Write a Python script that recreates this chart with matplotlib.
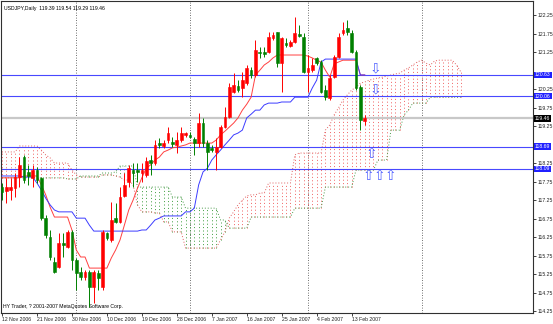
import numpy as np
import matplotlib.pyplot as plt
from matplotlib import font_manager
from matplotlib.transforms import blended_transform_factory

# USDJPY daily candles (bar 0 = 12 Nov 2006)
opens = [117.60, 117.49, 117.52, 117.57, 117.87, 118.41, 118.01, 117.85, 118.06, 117.85,
         116.76, 116.25, 115.57, 115.44, 116.09, 115.98, 116.39, 115.63, 115.30, 115.17,
         115.30, 114.90, 115.28, 114.90, 116.36, 116.17, 116.76, 116.66, 117.36, 117.74,
         118.06, 118.06, 117.98, 117.93, 118.33, 118.25, 118.79, 118.71, 118.87, 118.82,
         118.74, 118.87, 119.01, 119.01, 118.90, 118.79, 119.33, 118.79, 118.66, 118.55,
         118.68, 119.22, 119.49, 120.17, 120.33, 120.28, 120.41, 120.76, 120.63, 121.25,
         121.25, 121.25, 121.63, 121.79, 120.95, 121.49, 121.41, 121.52, 121.74, 121.66,
         120.71, 120.76, 121.09, 120.98, 120.22, 120.01, 120.57, 121.11, 121.76, 121.90,
         121.76, 121.25, 120.30, 119.39]
highs = [117.71, 117.85, 117.85, 117.98, 118.41, 118.47, 118.20, 118.20, 118.14, 117.87,
         116.85, 116.44, 115.71, 116.36, 116.36, 116.44, 116.44, 115.68, 115.44, 115.36,
         115.36, 115.36, 115.36, 116.44, 116.39, 117.20, 117.17, 117.60, 117.98, 118.20,
         118.25, 118.25, 118.25, 118.41, 118.47, 118.87, 118.93, 118.87, 119.22, 118.95,
         119.09, 119.22, 119.09, 119.09, 118.95, 119.60, 119.47, 118.87, 118.74, 118.93,
         119.28, 119.76, 120.41, 120.68, 120.49, 120.71, 120.90, 120.84, 121.57, 121.39,
         121.39, 121.79, 121.79, 121.79, 121.66, 121.63, 121.57, 122.20, 121.98, 121.76,
         121.17, 121.09, 121.11, 121.03, 120.36, 120.63, 121.17, 121.76, 122.06, 122.11,
         121.84, 121.30, 120.36, 119.54]
lows = [117.25, 117.17, 117.25, 117.33, 117.60, 117.71, 117.66, 117.60, 117.71, 116.71,
        116.22, 115.63, 115.28, 115.41, 115.71, 115.95, 115.36, 114.82, 115.09, 115.09,
        114.36, 114.47, 114.82, 114.82, 116.17, 116.12, 116.63, 116.63, 117.33, 117.60,
        117.60, 117.74, 117.74, 117.87, 117.93, 118.20, 118.66, 118.66, 118.79, 118.68,
        118.52, 118.82, 118.95, 118.93, 118.47, 118.68, 118.68, 118.06, 118.55, 118.06,
        118.66, 119.20, 119.47, 120.14, 120.17, 120.03, 120.36, 120.55, 120.57, 121.09,
        121.11, 121.22, 121.57, 120.84, 120.17, 121.39, 121.39, 121.49, 121.66, 120.68,
        120.17, 120.71, 120.90, 120.14, 119.95, 119.95, 120.55, 121.09, 121.71, 121.71,
        121.22, 120.22, 119.14, 119.29]
closes = [117.47, 117.60, 117.60, 117.87, 118.20, 117.79, 117.90, 118.06, 117.79, 116.76,
          116.30, 115.71, 115.30, 116.09, 116.03, 116.39, 115.63, 115.28, 115.17, 115.30,
          114.90, 115.30, 115.14, 116.39, 116.22, 116.71, 116.66, 117.33, 117.66, 118.11,
          117.98, 118.01, 118.06, 118.30, 118.25, 118.74, 118.74, 118.79, 119.06, 118.76,
          118.87, 119.06, 119.06, 118.95, 118.79, 119.33, 118.79, 118.55, 118.60, 118.68,
          119.22, 119.49, 120.30, 120.36, 120.22, 120.49, 120.82, 120.63, 121.30, 121.22,
          121.20, 121.66, 121.71, 120.95, 121.63, 121.44, 121.52, 121.76, 121.68, 120.71,
          120.82, 120.90, 120.95, 120.17, 120.03, 120.55, 121.11, 121.66, 121.84, 121.79,
          121.25, 120.28, 119.41, 119.46]

# Ichimoku lines
tenkan = [117.85, 117.85, 117.85, 117.85, 117.85, 117.90, 117.90, 117.90, 117.90, 117.66,
          117.39, 117.06, 116.79, 116.79, 116.79, 116.79, 116.44, 115.90, 115.71, 115.71,
          115.41, 115.41, 115.41, 115.41, 115.41, 115.68, 115.90, 116.17, 116.57, 116.98,
          117.25, 117.57, 117.85, 118.11, 118.20, 118.33, 118.41, 118.55, 118.60, 118.66,
          118.68, 118.71, 118.74, 118.79, 118.79, 118.79, 118.79, 118.79, 118.79, 118.87,
          119.01, 119.11, 119.22, 119.33, 119.47, 119.68, 119.84, 120.03, 120.63, 120.76,
          120.90, 120.98, 121.09, 121.17, 121.17, 121.17, 121.17, 121.17, 121.17, 121.17,
          121.14, 121.09, 121.03, 120.98, 120.76, 120.57, 120.93, 120.98, 121.03, 121.03,
          121.03, 121.03, 120.63, 120.63]
kijun = [117.90, 117.90, 117.90, 117.90, 117.90, 117.87, 117.87, 117.87, 117.71, 117.52,
         117.30, 117.12, 116.98, 116.93, 116.93, 116.93, 116.93, 116.76, 116.76, 116.76,
         116.57, 116.41, 116.41, 116.41, 116.41, 116.41, 116.41, 116.41, 116.41, 116.41,
         116.41, 116.41, 116.44, 116.44, 116.57, 116.71, 116.76, 116.82, 116.82, 116.82,
         116.82, 116.82, 116.93, 116.93, 117.03, 117.66, 118.01, 118.11, 118.33, 118.47,
         118.60, 118.74, 118.87, 119.01, 119.06, 119.14, 119.47, 119.57, 119.68, 119.68,
         119.82, 119.87, 119.87, 119.87, 119.90, 119.90, 119.90, 120.03, 120.03, 120.03,
         120.03, 120.28, 120.49, 120.98, 121.06, 121.06, 121.06, 121.06, 121.06, 121.06,
         121.06, 121.06, 120.63, 120.63]
span_a = [118.55, 118.55, 118.55, 118.55, 118.71, 118.71, 118.71, 118.71, 118.71, 118.60,
          118.47, 118.39, 118.25, 118.25, 118.25, 118.25, 118.06, 117.93, 117.87, 117.87,
          117.87, 117.87, 117.87, 117.93, 117.93, 117.93, 117.90, 117.87, 117.79, 117.79,
          117.66, 117.12, 116.93, 116.93, 116.93, 116.90, 116.90, 116.66, 116.66, 116.39,
          116.39, 116.39, 115.95, 115.95, 115.95, 115.95, 115.95, 115.95, 115.95, 115.95,
          116.17, 116.39, 116.76, 116.93, 117.12, 117.25, 117.36, 117.39, 117.39, 117.44,
          117.44, 117.71, 117.71, 117.71, 117.71, 117.71, 117.71, 118.47, 118.52, 118.52,
          118.52, 118.52, 118.52, 118.52, 119.14, 119.28, 119.55, 119.74, 119.95, 120.09,
          120.22, 120.30, 120.41, 120.44, 120.49, 120.52, 120.55, 120.57, 120.60, 120.63,
          120.66, 120.68, 120.76, 120.82, 120.90, 120.98, 121.03, 120.95, 120.90, 121.01,
          121.03, 121.03, 121.03, 121.03, 120.90, 120.71]
span_b = [117.85, 117.85, 117.85, 117.85, 117.85, 117.85, 117.85, 117.85, 117.85, 117.85,
          117.85, 117.85, 117.85, 117.85, 117.85, 117.82, 117.82, 117.82, 117.90, 117.90,
          117.90, 117.90, 117.90, 117.98, 117.98, 117.98, 118.01, 118.17, 118.17, 118.17,
          118.17, 117.60, 117.60, 117.60, 117.60, 117.60, 117.60, 117.60, 117.60, 117.33,
          117.33, 117.33, 117.03, 117.03, 117.03, 117.03, 117.03, 117.03, 117.03, 117.03,
          116.71, 116.71, 116.49, 116.49, 116.49, 116.49, 116.49, 116.79, 116.79, 116.79,
          116.79, 116.79, 116.79, 116.79, 116.79, 116.79, 116.79, 117.03, 117.03, 117.03,
          117.03, 117.03, 117.03, 117.03, 117.60, 117.60, 117.60, 117.60, 117.60, 117.60,
          117.60, 118.06, 118.06, 118.06, 118.06, 118.06, 118.33, 118.33, 118.33, 119.14,
          119.14, 119.14, 119.55, 119.68, 119.87, 119.87, 119.87, 119.87, 120.03, 120.03,
          120.03, 120.03, 120.03, 120.03, 120.03, 120.03]

date_labels = ['12 Nov 2006', '21 Nov 2006', '30 Nov 2006', '10 Dec 2006', '19 Dec 2006',
               '28 Dec 2006', '7 Jan 2007', '16 Jan 2007', '25 Jan 2007', '4 Feb 2007',
               '13 Feb 2007']
price_ticks = [122.25, 121.75, 121.25, 120.25, 119.75, 119.25, 118.25, 117.75,
               117.25, 116.75, 116.25, 115.75, 115.25, 114.75, 114.25]
levels = [120.63, 120.06, 118.69, 118.09]
bid = 119.46

# arrow objects: (bar, price level, glyph)
down_arrows = [(85.5, 120.63), (85.5, 120.06)]
up_arrows = [(84.5, 118.69), (83.8, 118.09), (86.3, 118.09), (88.8, 118.09)]

RED = '#ff0000'
GREEN = '#008000'

# small condensed text like the terminal's bitmap font
installed = {f.name for f in font_manager.fontManager.ttflist}
if 'Liberation Sans Narrow' in installed:
    FONT, FS = ['Liberation Sans Narrow', 'DejaVu Sans'], 4.3
else:
    FONT, FS = ['Liberation Sans', 'DejaVu Sans'], 3.7
plt.rcParams['font.family'] = FONT

fig = plt.figure(figsize=(5.53, 3.24), dpi=100)
ax = fig.add_axes([1 / 553, 11 / 324, 532 / 553, 312 / 324])
ax.set_xlim(-0.23, 121.5)
ax.set_ylim(114.196, 122.63)

n = len(closes)
x = np.arange(n)

# cloud: dotted vertical strokes per bar
xs = np.arange(len(span_a))
for i in xs:
    a, b = span_a[i], span_b[i]
    col = '#f06060' if a >= b else '#3c9c3c'
    ax.vlines(i, min(a, b), max(a, b), colors=col, lw=0.7,
              linestyles=(0, (1, 2.5)), zorder=1)
ax.plot(xs, span_a, color='#e06060', lw=0.7, ls=(0, (1, 2)), zorder=1)
ax.plot(xs, span_b, color='#4a9a4a', lw=0.7, ls=(0, (1, 2)), zorder=1)

# grid verticals
for g in [17, 43, 70, 96]:
    ax.axvline(g, color='#404040', lw=0.6, ls=(0, (1, 2)), zorder=0)

# levels
ax.axhline(bid, color='#c8c8c8', lw=1.6, zorder=1)
for lv in levels:
    ax.axhline(lv, color='#4848ff', lw=0.8, zorder=2)

# tenkan / kijun
ax.plot(x, tenkan, color='#ff4040', lw=0.7, zorder=3)
ax.plot(x, kijun, color='#3c3cff', lw=0.7, zorder=3)

# candles
o = np.array(opens); c = np.array(closes)
up = c >= o
cols = np.where(up, RED, GREEN)
ax.vlines(x, lows, highs, colors=cols, lw=0.7, zorder=4)
ax.bar(x, np.maximum(np.abs(c - o), 0.01), bottom=np.minimum(o, c), width=0.62,
       color=cols, edgecolor=cols, lw=0.4, zorder=5)

# arrows
arrow_kw = dict(color='#5060ff', fontsize=10, ha='center', zorder=6, family='DejaVu Sans')
for bx, lv in down_arrows:
    ax.text(bx, lv, '\u21e9', va='bottom', **arrow_kw)
for bx, lv in up_arrows:
    ax.text(bx, lv, '\u21e7', va='top', **arrow_kw)

# axes styling
for s in ax.spines.values():
    s.set_color('#303030')
    s.set_linewidth(0.8)
ax.yaxis.tick_right()
ax.set_yticks(price_ticks)
ax.set_yticklabels([f'{p:.2f}' for p in price_ticks])
ax.tick_params(axis='y', labelsize=FS, length=2, width=0.6, pad=1, colors='#202020')
ax.set_xticks(np.arange(0, 8 * len(date_labels), 8))
ax.set_xticklabels(date_labels, ha='left')
ax.tick_params(axis='x', labelsize=FS, length=2, width=0.6, pad=1, colors='#202020')

tr = blended_transform_factory(ax.transAxes, ax.transData)
for lv in levels:
    ax.text(1.004, lv, f'{lv:.2f}', transform=tr, fontsize=FS, color='white', va='center',
            ha='left', bbox=dict(boxstyle='square,pad=0.15', fc='#2020ff', ec='none'))
ax.text(1.004, bid, f'{bid:.2f}', transform=tr, fontsize=FS, color='white', va='center',
        ha='left', bbox=dict(boxstyle='square,pad=0.15', fc='black', ec='none'))

ax.text(0.006, 0.985, 'USDJPY,Daily  119.39 119.54 119.29 119.46', transform=ax.transAxes,
        fontsize=FS, va='top', ha='left')
ax.text(0.004, 0.012, 'HY Trader, ? 2001-2007 MetaQuotes Software Corp.', transform=ax.transAxes,
        fontsize=FS, va='bottom', ha='left')

fig.savefig('out.png', dpi=100)
